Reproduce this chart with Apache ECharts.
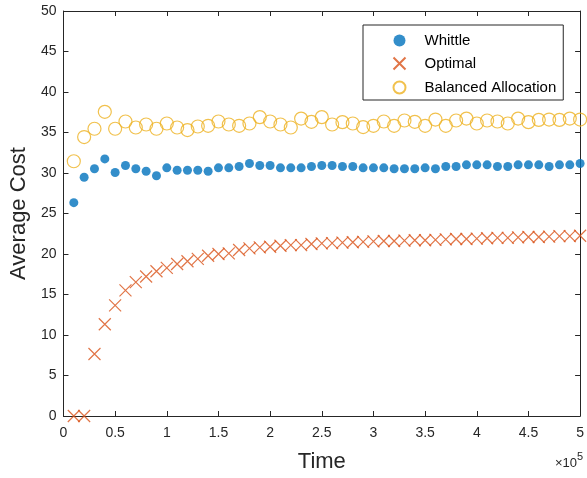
<!DOCTYPE html>
<html><head><meta charset="utf-8">
<script src="https://cdn.jsdelivr.net/npm/echarts@6/dist/echarts.min.js"></script>
<style>html,body{margin:0;padding:0;background:#fff}#c{width:587px;height:478px}</style>
</head><body><div id="c"></div>
<script>
const timeSteps = [10000,20000,30000,40000,50000,60000,70000,80000,90000,100000,
  110000,120000,130000,140000,150000,160000,170000,180000,190000,200000,
  210000,220000,230000,240000,250000,260000,270000,280000,290000,300000,
  310000,320000,330000,340000,350000,360000,370000,380000,390000,400000,
  410000,420000,430000,440000,450000,460000,470000,480000,490000,500000];
const whittle = [26.34,29.48,30.52,31.74,30.06,30.92,30.52,30.22,29.66,30.64,
  30.34,30.34,30.34,30.22,30.64,30.64,30.80,31.17,30.92,30.92,
  30.64,30.64,30.64,30.80,30.92,30.92,30.80,30.80,30.64,30.64,
  30.64,30.52,30.52,30.52,30.64,30.52,30.80,30.80,31.01,31.01,
  31.01,30.80,30.80,31.01,31.01,31.01,30.80,31.01,31.01,31.17];
const optimal = [0,0,7.65,11.33,13.66,15.50,16.52,17.22,17.87,18.28,
  18.77,19.10,19.39,19.79,20.00,20.08,20.49,20.70,20.82,20.90,
  21.02,21.10,21.10,21.23,21.31,21.35,21.40,21.45,21.50,21.55,
  21.60,21.60,21.65,21.70,21.70,21.75,21.80,21.85,21.85,21.90,
  21.95,22.00,22.00,22.05,22.10,22.10,22.15,22.20,22.20,22.25];
const balanced = [31.45,34.44,35.46,37.55,35.46,36.36,35.62,35.99,35.46,36.11,
  35.62,35.30,35.74,35.83,36.36,35.99,35.83,36.11,36.90,36.36,
  35.99,35.62,36.72,36.32,36.90,35.99,36.28,36.11,35.67,35.83,
  36.36,35.83,36.48,36.32,35.83,36.60,35.83,36.48,36.72,36.11,
  36.48,36.36,36.11,36.72,36.28,36.56,36.60,36.56,36.72,36.60];
const seriesNames = ['Whittle','Optimal','Balanced Allocation'];
const xMin = 0, xMax = 500000, xInterval = 50000, xScale = 1e5;
const yMin = 0, yMax = 50, yInterval = 5;

const FONT = 'Liberation Sans, Arial, Helvetica, sans-serif';
const AX = '#262626';
const lineStyle = {color: AX, width: 1};
function xAx(pos, main) {
  return {
    type: 'value', position: pos, min: xMin, max: xMax, interval: xInterval,
    axisLine: {show: true, onZero: false, lineStyle},
    axisTick: {show: true, inside: true, length: 5, lineStyle},
    axisLabel: main ? {show: true, formatter: v => String(v / xScale), fontSize: 14, color: AX, margin: 10, fontFamily: FONT} : {show: false},
    splitLine: {show: false},
    name: main ? 'Time' : '', nameLocation: 'middle', nameGap: 35,
    nameTextStyle: {fontSize: 22, color: AX, fontFamily: FONT}
  };
}
function yAx(pos, main) {
  return {
    type: 'value', position: pos, min: yMin, max: yMax, interval: yInterval,
    axisLine: {show: true, onZero: false, lineStyle},
    axisTick: {show: true, inside: true, length: 5, lineStyle},
    axisLabel: main ? {show: true, fontSize: 14, color: AX, margin: 7, fontFamily: FONT} : {show: false},
    splitLine: {show: false},
    name: main ? 'Average Cost' : '', nameLocation: 'middle', nameGap: 25,
    nameTextStyle: {fontSize: 22, color: AX, fontFamily: FONT}
  };
}
const chart = echarts.init(document.getElementById('c'));
chart.setOption({
  animation: false,
  backgroundColor: '#fff',
  grid: {left: 62, right: 3, top: 11, bottom: 57.5, containLabel: false},
  xAxis: [xAx('bottom', true), xAx('top', false)],
  yAxis: [yAx('left', true), yAx('right', false)],
  legend: {
    orient: 'vertical', left: 363, top: 25,
    padding: [8, 7, 4, 28], itemGap: 7, itemWidth: 40, itemHeight: 12,
    borderColor: AX, borderWidth: 1, backgroundColor: '#fff',
    textStyle: {fontSize: 15, color: '#000', fontFamily: FONT},
    data: seriesNames
  },
  series: [
    {name: seriesNames[0], type: 'scatter', symbol: 'circle', symbolSize: 9,
     itemStyle: {color: '#0072BD'},
     data: timeSteps.map((t, i) => [t, whittle[i]]), emphasis: {disabled: true}},
    {name: seriesNames[1], type: 'scatter', symbol: 'path://M0,0L10,10M10,0L0,10', symbolSize: 12,
     itemStyle: {color: 'none', borderColor: '#D95319', borderWidth: 1.2},
     data: timeSteps.map((t, i) => [t, optimal[i]]), emphasis: {disabled: true}},
    {name: seriesNames[2], type: 'scatter', symbol: 'circle', symbolSize: 13,
     itemStyle: {color: 'none', borderColor: '#EDB120', borderWidth: 1.2},
     data: timeSteps.map((t, i) => [t, balanced[i]]), emphasis: {disabled: true}}
  ],
  graphic: [
    {type: 'text', right: 10, top: 457,
     style: {text: '×10', fontSize: 13, fill: AX, fontFamily: FONT}},
    {type: 'text', right: 4, top: 451,
     style: {text: '5', fontSize: 11, fill: AX, fontFamily: FONT}}
  ]
});
</script></body></html>
